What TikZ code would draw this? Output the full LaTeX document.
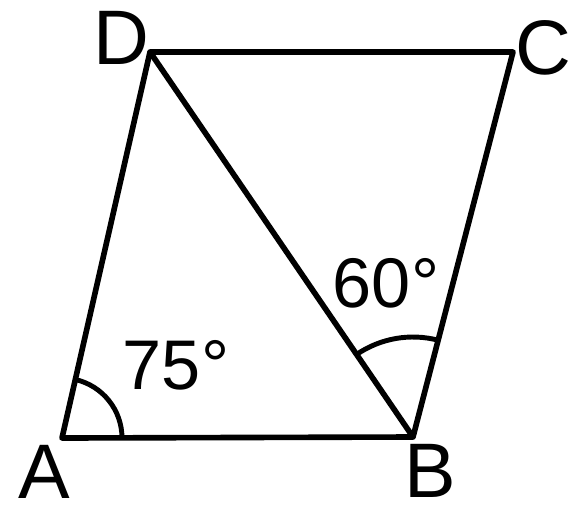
\documentclass[tikz,border=0pt]{standalone}
\usepackage{fontspec}
\setmainfont{Liberation Sans}
\usepackage{tikz}
\usetikzlibrary{calc,angles}
\tikzset{
    edge/.style={black, line width=1.6pt, line join=round},
    vlabel/.style={font=\fontsize{22}{26}\selectfont, inner sep=0pt},
    alabel/.style={font=\fontsize{20}{24}\selectfont, inner sep=0pt}
}

\begin{document}
\begin{tikzpicture}
    \useasboundingbox (0,0) rectangle (5.69,5.10);
    \coordinate (A) at (0.62,0.72);
    \coordinate (B) at (4.13,0.73);
    \coordinate (C) at (5.13,4.58);
    \coordinate (D) at (1.50,4.58);
    % sides and diagonal
    \draw[edge] (A) -- (B) -- (C) -- (D) -- cycle;
    \draw[edge] (D) -- (B);
    % angle marks
    \pic[draw, line width=1.4pt, angle radius=0.6cm] {angle = B--A--D};
    \pic[draw, line width=1.4pt, angle radius=1.0cm] {angle = C--B--D};
    % labels
    \node[vlabel] (lA) at (0.44,0.38) {A};
    \node[vlabel] (lB) at (4.30,0.39) {B};
    \node[vlabel] (lC) at (5.43,4.62) {C};
    \node[vlabel] (lD) at (1.21,4.72) {D};
    \node[alabel] (a75) at (1.76,1.45) {75°};
    \node[alabel] (a60) at (3.86,2.27) {60°};
\end{tikzpicture}
\end{document}
